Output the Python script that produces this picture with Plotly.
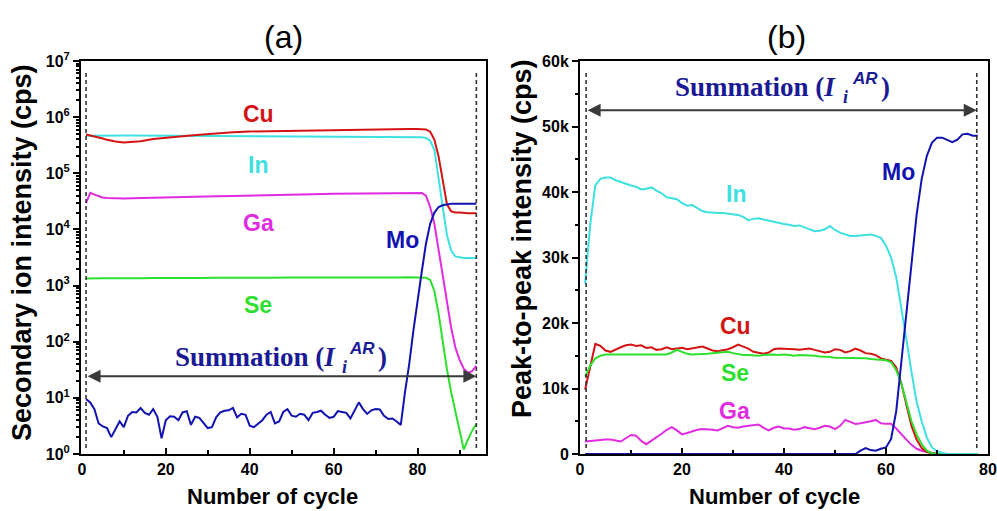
import plotly.graph_objects as go

SANS = "Liberation Sans"
SERIF = "Liberation Serif"
RED = "#d41414"
CYAN = "#3ee0e0"
MAG = "#e02ce0"
GREEN = "#2ee02e"
NAVY = "#1212b0"
TXT_NAVY = "#1a1a96"

# ---------------- panel (a): secondary ion intensity (cps), log scale ----------------
cyc_a = [1, 2, 3, 4, 5, 6, 8, 10, 12, 14, 17, 20, 24, 28, 32, 36, 40, 45, 50, 55, 60, 65, 70, 75,
         78, 80, 81, 82, 83, 84, 85, 86, 87, 88, 89, 90, 91, 92, 93, 94]
cu_a = [490000, 473000, 457000, 437000, 417000, 394000, 367000, 355000, 359000, 372000, 407000,
        432000, 457000, 484000, 513000, 537000, 556000, 565000, 575000, 586000, 596000, 603000,
        610000, 617000, 617000, 617000, 614000, 603000, 550000, 398000, 200000, 79000, 28000,
        21000, 20000, 20000, 19500, 19500, 19500, 19500]
in_a = [468000, 470000, 472000, 473000, 473000, 473000, 473000, 473000, 471000, 470000, 468000,
        466000, 462000, 459000, 457000, 455000, 452000, 450000, 447000, 445000, 442000, 442000,
        442000, 442000, 442000, 442000, 437000, 427000, 380000, 263000, 89000, 25000, 7900,
        4200, 3300, 3160, 3100, 3100, 3100, 3100]
ga_a = [29500, 44700, 41700, 38900, 37200, 36300, 35500, 35700, 35900, 36300, 36700, 37200,
        37800, 38500, 38900, 39400, 39800, 40700, 41700, 42500, 43200, 43700, 44200, 44700,
        45200, 45700, 44700, 39800, 25100, 12600, 4470, 1580, 500, 178, 79, 48, 33, 28, 30, 37]
se_a = [1340, 1350, 1345, 1350, 1355, 1350, 1345, 1350, 1360, 1355, 1370, 1360, 1375, 1365,
        1380, 1370, 1385, 1375, 1390, 1385, 1395, 1390, 1400, 1395, 1405, 1400, 1400, 1380,
        1260, 800, 316, 100, 32, 12.6, 5.6, 2.5, 1.2, 1.8, 2.6, 3.4]
cyc_mo_a = list(range(1, 95))
mo_a = [9.5, 8.3, 6.3, 3.5, 3.1, 2.9, 2.0, 2.8, 3.8, 3.0, 4.8, 5.6, 5.5, 6.6, 5.4, 5.0, 6.3, 4.6,
        1.9, 4.0, 4.7, 4.6, 4.0, 5.5, 5.8, 3.3, 4.6, 4.4, 3.5, 2.9, 3.0, 4.5, 5.5, 5.9, 6.0, 6.6,
        4.5, 5.2, 5.0, 3.2, 3.0, 3.5, 4.0, 5.0, 5.6, 3.5, 3.8, 5.6, 6.3, 4.8, 4.6, 5.2, 5.0, 4.0,
        5.4, 5.6, 5.9, 5.0, 4.4, 4.6, 5.8, 5.6, 5.4, 4.3, 5.8, 8.3, 6.3, 5.2, 6.0, 6.3, 6.2, 4.8,
        4.2, 4.3, 3.8, 3.3, 12.6, 40, 158, 562, 1780, 5620, 12600, 20000, 25100, 26900, 28200,
        28800, 28800, 28800, 28800, 28800, 28800, 28800]

# ---------------- panel (b): peak-to-peak intensity (kcps) ----------------
cyc_b = list(range(1, 79))
in_b = [26.0, 35.0, 41.0, 42.0, 42.2, 42.2, 41.8, 41.5, 41.3, 41.0, 40.8, 40.4, 40.5, 40.7, 40.2,
        39.8, 39.2, 39.0, 38.9, 38.3, 37.9, 38.0, 37.5, 37.1, 36.9, 36.8, 36.8, 36.8, 36.7, 36.6,
        36.5, 36.2, 35.7, 35.9, 36.0, 35.8, 35.6, 35.5, 35.3, 35.1, 35.0, 34.8, 34.9, 34.6, 34.4,
        34.0, 34.1, 34.3, 34.8, 34.2, 33.8, 33.5, 33.3, 33.3, 33.4, 33.5, 33.5, 33.3, 33.0, 31.8,
        30.0, 27.0, 22.5, 17.5, 12.5, 8.0, 5.0, 2.5, 1.0, 0.4, 0.2, 0, 0, 0, 0, 0, 0, 0]
cu_b = [9.8, 13.5, 16.8, 16.5, 15.8, 15.6, 16.0, 16.3, 16.6, 16.7, 16.5, 16.6, 16.2, 16.3, 15.9,
        16.0, 16.3, 16.0, 16.1, 16.2, 16.0, 16.1, 16.2, 16.4, 16.1, 15.8, 15.7, 15.8, 16.0, 16.3,
        16.7, 16.4, 16.1, 15.6, 15.4, 15.3, 15.5, 16.0, 16.1, 16.1, 16.1, 16.0, 15.9, 16.0, 16.1,
        15.9, 15.7, 15.5, 15.6, 16.0, 15.9, 15.5, 15.7, 16.1, 15.8, 15.4, 15.3, 15.1, 14.6, 14.4,
        14.2, 13.2, 10.8, 7.5, 4.3, 2.2, 0.9, 0.3, 0.1, 0, 0, 0, 0, 0, 0, 0, 0, 0]
se_b = [11.8, 13.5, 14.6, 15.0, 15.2, 15.2, 15.2, 15.2, 15.3, 15.2, 15.3, 15.3, 15.2, 15.3, 15.2,
        15.2, 15.2, 15.5, 15.9, 15.6, 15.3, 15.2, 15.2, 15.2, 15.3, 15.4, 15.5, 15.6, 15.6, 15.4,
        15.2, 15.1, 15.1, 15.0, 15.0, 15.1, 15.2, 15.2, 15.1, 15.2, 15.1, 15.0, 15.1, 15.1, 15.0,
        15.0, 14.9, 14.9, 14.8, 14.7, 14.7, 14.7, 14.7, 14.6, 14.6, 14.6, 14.5, 14.4, 14.4, 14.3,
        14.0, 12.8, 10.8, 7.8, 5.0, 3.0, 1.5, 0.5, 0.1, 0, 0, 0, 0, 0, 0, 0, 0, 0]
ga_b = [1.9, 2.0, 2.0, 2.1, 2.2, 2.2, 2.0, 1.9, 2.4, 2.9, 2.8, 2.0, 1.5, 2.0, 2.6, 3.1, 3.7, 4.1,
        3.6, 3.0, 3.2, 3.5, 3.7, 3.8, 3.8, 3.7, 3.6, 4.0, 4.3, 4.1, 4.0, 4.2, 4.3, 4.4, 4.5, 4.0,
        3.6, 4.0, 4.2, 3.9, 3.9, 3.7, 3.8, 4.1, 4.0, 3.8, 4.0, 4.3, 4.2, 3.8, 4.3, 5.2, 4.9, 4.6,
        4.7, 4.8, 5.0, 5.2, 4.7, 4.6, 4.6, 3.9, 3.0, 2.2, 1.4, 0.8, 0.5, 0.3, 0.1, 0, 0, 0, 0, 0,
        0, 0, 0, 0]
mo_b = [0] * 54 + [0.5, 0.9, 0.6, 0.5, 0.8, 1.0, 2.3, 6.5, 14.0, 21.5, 29.0, 36.5, 42.0, 45.5,
                   47.5, 48.3, 48.3, 47.9, 47.6, 48.0, 48.8, 48.9, 48.6, 48.6]

log_ticks = [1, 10, 100, 1000, 10000, 100000, 1000000, 10000000]
log_ticktext = ["10<sup>0</sup>", "10<sup>1</sup>", "10<sup>2</sup>", "10<sup>3</sup>",
                "10<sup>4</sup>", "10<sup>5</sup>", "10<sup>6</sup>", "10<sup>7</sup>"]
log_minor = [m * d for d in [1, 10, 100, 1000, 10000, 100000, 1000000] for m in range(2, 10)]
lin_ticks = [0, 10, 20, 30, 40, 50, 60]
lin_ticktext = ["0", "10k", "20k", "30k", "40k", "50k", "60k"]
lin_minor = [5, 15, 25, 35, 45, 55]
x_ticks = [0, 20, 40, 60, 80]

fig = go.Figure()

def add_line(x, y, color, xa, ya):
    fig.add_trace(go.Scatter(x=x, y=y, mode="lines", line=dict(color=color, width=2),
                             xaxis=xa, yaxis=ya, showlegend=False, hoverinfo="skip"))

add_line(cyc_a, se_a, GREEN, "x", "y")
add_line(cyc_a, ga_a, MAG, "x", "y")
add_line(cyc_a, in_a, CYAN, "x", "y")
add_line(cyc_a, cu_a, RED, "x", "y")
add_line(cyc_mo_a, mo_a, NAVY, "x", "y")

add_line(cyc_b, ga_b, MAG, "x2", "y2")
add_line(cyc_b, cu_b, RED, "x2", "y2")
add_line(cyc_b, se_b, GREEN, "x2", "y2")
add_line(cyc_b, in_b, CYAN, "x2", "y2")
add_line(cyc_b, mo_b, NAVY, "x2", "y2")

tickfont = dict(family=SANS, size=16, color="black", weight="bold")
common = dict(showline=True, linewidth=2, linecolor="black", mirror=True, showgrid=False,
              zeroline=False, tickfont=tickfont, tickcolor="black", tickwidth=2,
              automargin=False)

W, H = 997, 511
def px(x):
    return x / W
def py(y):
    return 1 - y / H

ydom = [py(454), py(61)]
fig.update_layout(
    width=W, height=H, margin=dict(l=0, r=0, t=0, b=0, pad=0, autoexpand=False),
    plot_bgcolor="white", paper_bgcolor="white",
    xaxis=dict(domain=[px(81), px(486)], range=[-0.2, 96.3], tickvals=x_ticks, ticks="inside",
               ticklen=6, minor=dict(tickvals=[10, 30, 50, 70, 90], ticks="inside", ticklen=4,
                                     tickcolor="black", tickwidth=1.5), anchor="y", **common),
    yaxis=dict(domain=ydom, type="log", range=[0, 7], tickvals=log_ticks, ticktext=log_ticktext,
               ticks="outside", ticklen=6,
               minor=dict(tickvals=log_minor, ticks="outside", ticklen=3, tickcolor="black",
                          tickwidth=1.5), anchor="x", **common),
    xaxis2=dict(domain=[px(580), px(988)], range=[0, 80], tickvals=x_ticks, ticks="inside",
                ticklen=6, minor=dict(tickvals=[10, 30, 50, 70], ticks="inside", ticklen=4,
                                      tickcolor="black", tickwidth=1.5), anchor="y2", **common),
    yaxis2=dict(domain=ydom, range=[0, 60], tickvals=lin_ticks, ticktext=lin_ticktext,
                ticks="outside", ticklen=6,
                minor=dict(tickvals=lin_minor, ticks="outside", ticklen=3, tickcolor="black",
                           tickwidth=1.5), anchor="x2", **common),
)

# dashed boundary lines
dash = dict(color="#333333", width=1.6, dash="4px,3px")
for xr, yr, xv in [("x", "y domain", 1), ("x", "y domain", 94),
                   ("x2", "y2 domain", 1.2), ("x2", "y2 domain", 77.8)]:
    fig.add_shape(type="line", xref=xr, yref=yr, x0=xv, x1=xv, y0=0.015, y1=0.97, line=dash)

ann = []
# double-headed arrows
for xr, yr, x0, x1, yv in [("x", "y domain", 1, 94, 0.198), ("x2", "y2 domain", 1.2, 77.8, 0.875)]:
    ann.append(dict(x=x1, y=yv, xref=xr, yref=yr, ax=x0, ay=yv, axref=xr, ayref=yr, text="",
                    showarrow=True, arrowhead=2, startarrowhead=2, arrowside="end+start",
                    arrowsize=1.3, arrowwidth=2, arrowcolor="#3a3a3a", standoff=0,
                    startstandoff=0))

# element labels
lab_font = lambda c: dict(family=SANS, size=23, color=c, weight="bold")
for t, x, y, c in [("Cu", 42, 6.06, RED), ("In", 42, 5.15, CYAN), ("Ga", 42, 4.12, MAG),
                   ("Mo", 76.5, 3.81, NAVY), ("Se", 42, 2.66, GREEN)]:
    ann.append(dict(x=x, y=y, xref="x", yref="y", text=t, showarrow=False, font=lab_font(c),
                    xanchor="center", yanchor="middle"))
for t, x, y, c in [("In", 30.6, 39.7, CYAN), ("Mo", 62.5, 43.0, NAVY), ("Cu", 30.4, 19.6, RED),
                   ("Se", 30.4, 12.4, GREEN), ("Ga", 30.2, 6.5, MAG)]:
    ann.append(dict(x=x, y=y, xref="x2", yref="y2", text=t, showarrow=False, font=lab_font(c),
                    xanchor="center", yanchor="middle"))

# "Summation (I_i^AR)" pieces
def summation(left, cy, i_left, ar_left, par_left):
    big = dict(family=SERIF, size=27, color=TXT_NAVY, weight="bold")
    ann.append(dict(x=px(left), y=py(cy), xref="paper", yref="paper", xanchor="left",
                    yanchor="middle", text="Summation (<i>I</i>", showarrow=False, font=big))
    ann.append(dict(x=px(i_left), y=py(cy + 10), xref="paper", yref="paper", xanchor="left",
                    yanchor="middle", text="<i>i</i>", showarrow=False,
                    font=dict(family=SERIF, size=18, color=TXT_NAVY, weight="bold")))
    ann.append(dict(x=px(ar_left), y=py(cy - 9), xref="paper", yref="paper", xanchor="left",
                    yanchor="middle", text="<i>AR</i>", showarrow=False,
                    font=dict(family=SANS, size=17, color=TXT_NAVY, weight="bold")))
    ann.append(dict(x=px(par_left), y=py(cy), xref="paper", yref="paper", xanchor="left",
                    yanchor="middle", text=")", showarrow=False, font=big))

summation(173, 357, 340, 347, 376)
summation(673, 87, 841, 850, 879)

# panel titles
for t, x in [("(a)", 283), ("(b)", 786)]:
    ann.append(dict(x=px(x), y=py(37), xref="paper", yref="paper", text=t, showarrow=False,
                    xanchor="center", yanchor="middle",
                    font=dict(family=SANS, size=32, color="black")))

# axis titles
xt_font = dict(family=SANS, size=22, color="black", weight="bold")
yt_font = dict(family=SANS, size=27, color="black", weight="bold")
for x in [272, 774]:
    ann.append(dict(x=px(x), y=py(496), xref="paper", yref="paper", text="Number of cycle",
                    xanchor="center", yanchor="middle", showarrow=False, font=xt_font))
ann.append(dict(x=px(22), y=py(253), xref="paper", yref="paper", textangle=-90,
                xanchor="center", yanchor="middle",
                text="Secondary ion intensity (cps)", showarrow=False, font=yt_font))
ann.append(dict(x=px(522), y=py(239), xref="paper", yref="paper", textangle=-90,
                xanchor="center", yanchor="middle",
                text="Peak-to-peak intensity (cps)", showarrow=False, font=yt_font))

fig.update_layout(annotations=ann)
fig.write_html("out.html")
